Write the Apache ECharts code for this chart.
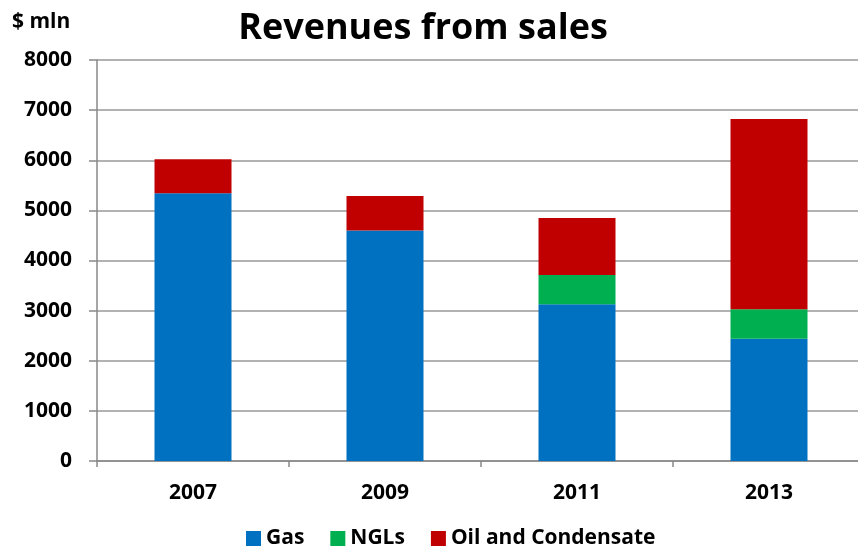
<!DOCTYPE html>
<html><head><meta charset="utf-8">
<script src="https://cdn.jsdelivr.net/npm/echarts@6/dist/echarts.min.js"></script>
<style>html,body{margin:0;padding:0;background:#fff}#c{width:858px;height:549px}</style>
</head><body><div id="c"></div>
<script>
var categories = ['2007', '2009', '2011', '2013'];
var gas = [5340, 4600, 3125, 2440];
var ngls = [0, 0, 585, 587];
var oil = [680, 687, 1138, 3796];
var yTicks = [0, 1000, 2000, 3000, 4000, 5000, 6000, 7000, 8000];

var font = '"Open Sans", Lato, sans-serif';
var chart = echarts.init(document.getElementById('c'));
chart.setOption({
  animation: false,
  title: {text: 'Revenues from sales', left: 418, top: 6, textAlign: 'center',
    textStyle: {fontFamily: font, fontWeight: 'bold', fontSize: 36, color: '#000'}},
  graphic: [{type: 'text', left: 12, top: 12,
    style: {text: '$ mln', fontFamily: font, fontWeight: 'bold', fontSize: 21, fill: '#000'}}],
  legend: {top: 523, left: 241, itemWidth: 15, itemHeight: 15, itemGap: 26, icon: 'rect',
    textStyle: {fontFamily: font, fontWeight: 'bold', fontSize: 21, color: '#000'},
    data: ['Gas', 'NGLs', 'Oil and Condensate']},
  grid: {left: 97, top: 60, width: 768, height: 401, outerBoundsMode: 'none'},
  xAxis: {type: 'category', data: categories,
    axisLine: {lineStyle: {color: '#888', width: 1.5}},
    axisTick: {show: true, length: 6, lineStyle: {color: '#888', width: 1.5}},
    axisLabel: {fontFamily: font, fontWeight: 'bold', fontSize: 21, color: '#000', margin: 22}},
  yAxis: {type: 'value', min: 0, max: 8000, interval: 1000,
    axisLine: {show: true, lineStyle: {color: '#888', width: 1.5}},
    axisTick: {show: true, length: 8, lineStyle: {color: '#888', width: 1.5}},
    splitLine: {lineStyle: {color: '#999', width: 1.5}},
    axisLabel: {fontFamily: font, fontWeight: 'bold', fontSize: 21, color: '#000', margin: 25,
      customValues: yTicks, formatter: function (v) { return String(v); }}},
  series: [
    {name: 'Gas', type: 'bar', stack: 't', data: gas, barWidth: 77, itemStyle: {color: '#0070C0'}},
    {name: 'NGLs', type: 'bar', stack: 't', data: ngls, barWidth: 77, itemStyle: {color: '#00B050'}},
    {name: 'Oil and Condensate', type: 'bar', stack: 't', data: oil, barWidth: 77, itemStyle: {color: '#C00000'}}
  ]
});
</script></body></html>
